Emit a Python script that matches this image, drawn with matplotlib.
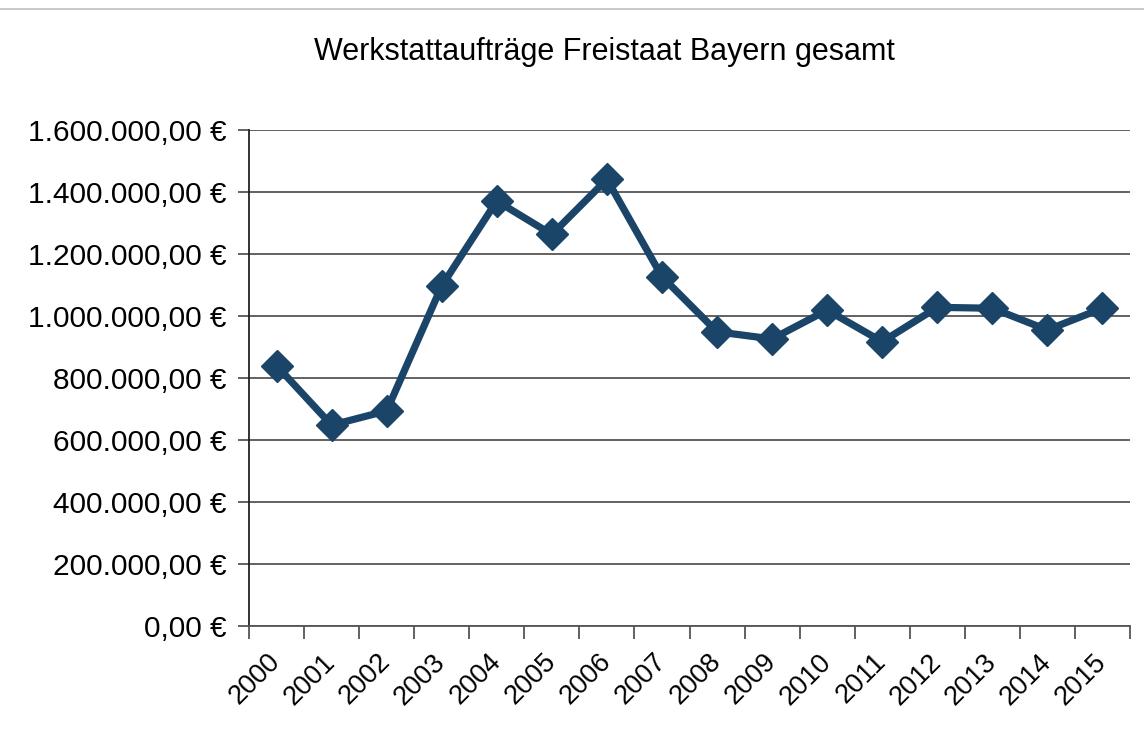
import matplotlib
matplotlib.use("Agg")
import matplotlib.pyplot as plt
from matplotlib.lines import Line2D
from matplotlib.ticker import FuncFormatter, FixedLocator

years = ["2000", "2001", "2002", "2003", "2004", "2005", "2006", "2007",
         "2008", "2009", "2010", "2011", "2012", "2013", "2014", "2015"]
values = [840000, 648000, 694000, 1097000, 1371000, 1263000, 1441000, 1127000,
          949000, 926000, 1019000, 917000, 1028000, 1025000, 955000, 1025000]
title = "Werkstattaufträge Freistaat Bayern gesamt"
y_ticks = [0, 200000, 400000, 600000, 800000, 1000000, 1200000, 1400000, 1600000]

plt.rcParams['font.family'] = ['Liberation Sans', 'DejaVu Sans']

W, H = 1144, 740
fig = plt.figure(figsize=(W / 100, H / 100), dpi=100)
ax = fig.add_axes([249 / W, 1 - 626 / H, (1130 - 249) / W, (626 - 130) / H])

x = list(range(len(years)))
ax.plot(x, values, color="#1b4568", linewidth=5.2, marker="D", markersize=16,
        markeredgecolor="#1b4568", markerfacecolor="#1b4568", zorder=5,
        solid_joinstyle="miter", clip_on=False)

ax.set_xlim(-0.5, len(years) - 0.5)
ax.set_ylim(0, 1600000)

def fmt(v, pos=None):
    s = f"{v:,.2f}"
    s = s.replace(",", "X").replace(".", ",").replace("X", ".")
    return s + " €"

ax.yaxis.set_major_locator(FixedLocator(y_ticks))
ax.yaxis.set_major_formatter(FuncFormatter(fmt))
ax.yaxis.grid(True, color="#555555", linewidth=1.3)
ax.set_axisbelow(True)

ax.xaxis.set_major_locator(FixedLocator([i - 0.5 for i in range(len(years) + 1)]))
ax.xaxis.set_major_formatter(FuncFormatter(lambda v, p: ""))
ax.xaxis.set_minor_locator(FixedLocator(x))
ax.set_xticklabels(years, minor=True, rotation=45, ha="right", va="center",
                   rotation_mode="anchor", fontsize=19.5)
ax.tick_params(axis="x", which="minor", length=0, pad=23)
ax.tick_params(axis="x", which="major", length=9, width=1.3, color="#555555", direction="out")
ax.tick_params(axis="y", which="major", length=8, width=1.3, color="#555555",
               direction="out", labelsize=21.5, pad=8)

for s in ["top", "right"]:
    ax.spines[s].set_visible(False)
ax.spines["left"].set_color("#222222")
ax.spines["left"].set_linewidth(1.3)
ax.spines["bottom"].set_color("#555555")
ax.spines["bottom"].set_linewidth(1.3)

fig.text(604 / W, 1 - 52 / H, title, ha="center", va="center", fontsize=22)

fig.add_artist(Line2D([0, 1], [1 - 9 / H, 1 - 9 / H], color="#c0c0c0", linewidth=1.2,
                      transform=fig.transFigure))

fig.savefig("out.png", dpi=100)
